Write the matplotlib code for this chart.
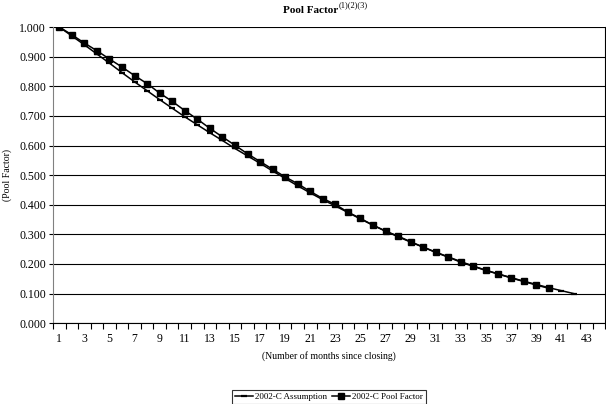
import numpy as np
import matplotlib
matplotlib.use("Agg")
import matplotlib.pyplot as plt

plt.rcParams['font.family'] = ['Liberation Serif', 'DejaVu Serif']

# months since closing (category axis runs 1..44)
months = list(range(1, 45))

assumption = [1.000, 0.970, 0.940, 0.909, 0.878, 0.846, 0.815, 0.785, 0.755, 0.726,
              0.697, 0.670, 0.643, 0.617, 0.590, 0.565, 0.540, 0.514, 0.489, 0.464,
              0.440, 0.417, 0.396, 0.374, 0.352, 0.331, 0.311, 0.292, 0.274, 0.257,
              0.240, 0.224, 0.208, 0.193, 0.179, 0.166, 0.154, 0.142, 0.131, 0.120,
              0.110, 0.100]

pool_factor = [1.000, 0.974, 0.946, 0.920, 0.892, 0.865, 0.836, 0.809, 0.777, 0.749,
               0.718, 0.689, 0.658, 0.629, 0.601, 0.572, 0.546, 0.520, 0.494, 0.471,
               0.445, 0.421, 0.401, 0.375, 0.354, 0.331, 0.311, 0.294, 0.275, 0.257,
               0.239, 0.223, 0.206, 0.192, 0.178, 0.166, 0.153, 0.141, 0.129, 0.118]

y_ticks = np.arange(0, 1.01, 0.1)

fig = plt.figure(figsize=(6.06, 4.04), dpi=100)
ax = fig.add_axes([0.0875, 0.200, 0.911, 0.733])

ax.plot(months[:len(assumption)], assumption, color='black', lw=1.1,
        marker='_', markersize=5, markeredgewidth=1.6, label='2002-C Assumption')
ax.plot(months[:len(pool_factor)], pool_factor, color='black', lw=1.1,
        marker='s', markersize=4.5, label='2002-C Pool Factor')

ax.set_xlim(0.5, 44.5)
ax.set_ylim(0, 1.0)
ax.set_yticks(y_ticks)
ax.set_yticklabels(['%.3f' % v for v in y_ticks], fontsize=8.5)
ax.yaxis.grid(True, color='black', lw=0.8)
ax.set_axisbelow(True)

# labels on odd months, ticks on category boundaries
ax.set_xticks(months[::2])
ax.set_xticklabels([str(m) for m in months[::2]], fontsize=8.5)
ax.tick_params(axis='x', which='major', length=0, pad=7)
ax.set_xticks(np.arange(0.5, 45, 1), minor=True)
ax.tick_params(axis='x', which='minor', length=4, width=0.8, direction='out')
ax.tick_params(axis='y', length=3, width=0.8, direction='out', pad=2)

ax.spines['left'].set_color('#808080')
ax.spines['top'].set_visible(False)
ax.spines['right'].set_color('black')
ax.spines['right'].set_linewidth(0.8)
ax.spines['bottom'].set_linewidth(0.8)

ax.set_ylabel('(Pool Factor)', fontsize=7)
ax.yaxis.set_label_coords(-0.074, 0.5)
ax.set_xlabel('(Number of months since closing)', fontsize=7)
ax.xaxis.set_label_coords(0.5, -0.095)

t = fig.text(0.513, 0.967, 'Pool Factor', fontsize=8, fontweight='bold',
             ha='center', va='baseline')
ax.annotate('(1)(2)(3)', xy=(1, 0.7), xycoords=t, fontsize=6,
            ha='left', va='bottom')

leg = ax.legend(loc='center', bbox_to_anchor=(0.5, -0.25), ncol=2, fontsize=6.5,
                frameon=True, fancybox=False, edgecolor='black', borderpad=0.3,
                handlelength=2.0, handletextpad=0.2, columnspacing=0.6,
                borderaxespad=0)
leg.get_frame().set_linewidth(0.8)

fig.savefig('out.png', dpi=100)
